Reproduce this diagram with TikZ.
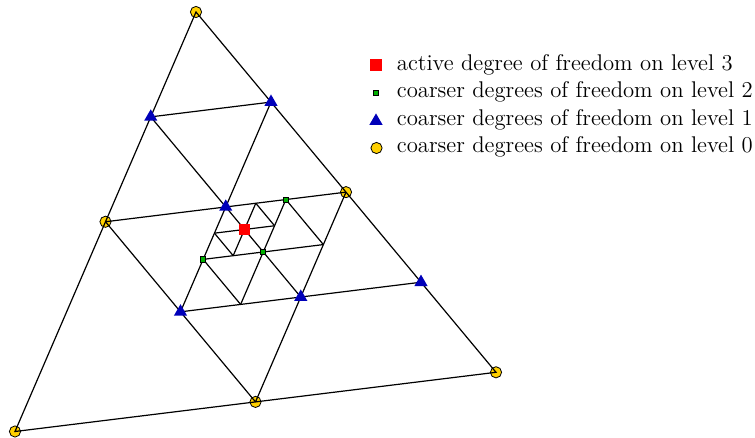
\documentclass[tikz,border=0pt]{standalone}
\usetikzlibrary{shapes.geometric}
\definecolor{dofGold}{RGB}{255,208,0}
\definecolor{dofGreen}{RGB}{0,175,0}
\definecolor{dofBlue}{RGB}{0,0,185}
\begin{document}
\begin{tikzpicture}[x=0.5pt,y=-0.5pt]
\tikzset{
    meshLine/.style={draw=black,line width=0.6pt},
    meshDof0/.style={circle,draw=black,fill=dofGold,inner sep=0pt,minimum size=5.6pt,line width=0.4pt},
    meshDof1/.style={regular polygon,regular polygon sides=3,fill=dofBlue,inner sep=0pt,minimum size=7.6pt},
    meshDof2/.style={rectangle,draw=black,fill=dofGreen,inner sep=0pt,minimum size=2.6pt,line width=0.4pt},
    meshDof3/.style={rectangle,fill=red,inner sep=0pt,minimum size=5.8pt},
    meshLegend/.style={anchor=base west,inner sep=0pt,font=\fontsize{11.35}{13.6}\selectfont},
}
\useasboundingbox (0,0) rectangle (755,438);

\begin{scope}[shift={(98pt,-6pt)},x={(-90.5pt,-209.75pt)},y={(150pt,-180.15pt)}]
\coordinate (A) at (0,0);
\coordinate (B) at (1,0);
\coordinate (C) at (0,1);
\coordinate (mAB) at (0.5,0);
\coordinate (mAC) at (0,0.5);
\coordinate (mBC) at (0.5,0.5);

\coordinate (p1) at (0.25,0);
\coordinate (p2) at (0,0.25);
\coordinate (p3) at (0.25,0.25);
\coordinate (q1) at (0.5,0.25);
\coordinate (q2) at (0.25,0.5);
\coordinate (q3) at (0,0.75);

\coordinate (g1) at (0.125,0.375);
\coordinate (g2) at (0.375,0.25);
\coordinate (g3) at (0.25,0.375);
\coordinate (r1) at (0.125,0.5);
\coordinate (r2) at (0.375,0.375);

\coordinate (s1) at (0.3125,0.25);
\coordinate (s2) at (0.1875,0.375);
\coordinate (s3) at (0.1875,0.3125);
\coordinate (s4) at (0.3125,0.3125);
\coordinate (act) at (0.25,0.3125);

\node[meshDof0] (nA) at (A) {};
\node[meshDof0] (nB) at (B) {};
\node[meshDof0] (nC) at (C) {};
\node[meshDof0] (nAB) at (mAB) {};
\node[meshDof0] (nAC) at (mAC) {};
\node[meshDof0] (nBC) at (mBC) {};

\draw[meshLine] (A) -- (B) -- (C) -- cycle;
\draw[meshLine] (mAB) -- (mAC);
\draw[meshLine] (mAB) -- (mBC);
\draw[meshLine] (mAC) -- (mBC);

\draw[meshLine] (p1) -- (p2);
\draw[meshLine] (p1) -- (q2);
\draw[meshLine] (p2) -- (q1);
\draw[meshLine] (q1) -- (q3);

\draw[meshLine] (g1) -- (r1);
\draw[meshLine] (g1) -- (r2);
\draw[meshLine] (g2) -- (r2);
\draw[meshLine] (g2) -- (r1);

\draw[meshLine] (s1) -- (s2);
\draw[meshLine] (s3) -- (s2);
\draw[meshLine] (s3) -- (s4);
\draw[meshLine] (s1) -- (s4);

\node[meshDof1] (np1) at (p1) {};
\node[meshDof1] (np2) at (p2) {};
\node[meshDof1] (np3) at (p3) {};
\node[meshDof1] (nq1) at (q1) {};
\node[meshDof1] (nq2) at (q2) {};
\node[meshDof1] (nq3) at (q3) {};

\node[meshDof2] (ng1) at (g1) {};
\node[meshDof2] (ng2) at (g2) {};
\node[meshDof2] (ng3) at (g3) {};

\node[meshDof3] (nact) at (act) {};
\end{scope}

\node[meshDof3] (key3) at (376,65) {};
\node[meshDof2] (key2) at (376,93) {};
\node[meshDof1] (key1) at (376,121) {};
\node[meshDof0] (key0) at (376.5,148) {};
\node[meshLegend] (txt3) at (396.5,70.5) {active degree of freedom on level 3};
\node[meshLegend] (txt2) at (396.5,98) {coarser degrees of freedom on level 2};
\node[meshLegend] (txt1) at (396.5,125.5) {coarser degrees of freedom on level 1};
\node[meshLegend] (txt0) at (396.5,153) {coarser degrees of freedom on level 0};
\end{tikzpicture}
\end{document}
